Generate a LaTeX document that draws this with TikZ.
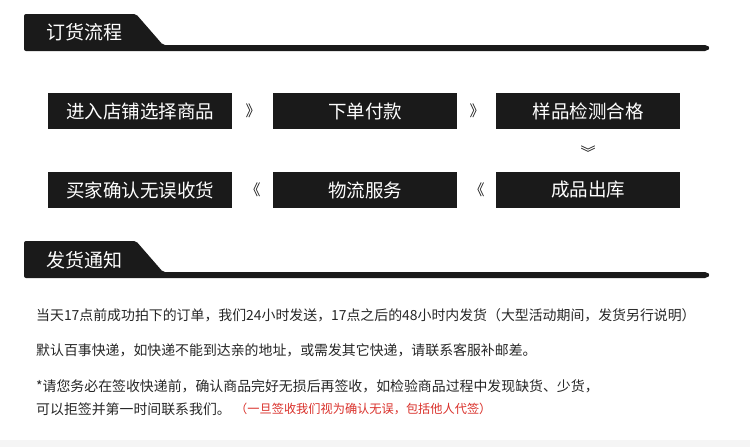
\documentclass[tikz,border=0pt]{standalone}
\usepackage{fontspec}
\setmainfont{Noto Sans CJK SC}
\usetikzlibrary{positioning}
\definecolor{tabblack}{HTML}{1A1A1A}
\definecolor{notered}{HTML}{D9302A}
\tikzset{
  stepbox/.style={fill=tabblack, text=white, minimum width=184pt, minimum height=36pt, inner sep=0pt, font=\fontsize{18.5}{18}\selectfont},
  chev/.style={text=tabblack, font=\fontsize{15}{15}\selectfont, inner sep=0pt},
  note/.style={anchor=west, inner sep=0pt, font=\fontsize{13.9}{14}\selectfont, text=black!85}
}
\begin{document}
\begin{tikzpicture}[x=1pt,y=-1pt]
    \useasboundingbox (0,0) rectangle (750,447);
    \fill[black!4] (0,440) rectangle (750,447);

    % headers
    \fill[tabblack, rounded corners=2pt] (24,14) -- (136,14) -- (163,45) -- (707,45) -- (710,48) -- (707,51) -- (24,51) -- cycle;
    \node[text=white, font=\fontsize{19}{19}\selectfont] (hdorder) at (84,32) {订货流程};
    \fill[tabblack, rounded corners=2pt] (24,241) -- (136,241) -- (163,272) -- (707,272) -- (710,275) -- (707,278) -- (24,278) -- cycle;
    \node[text=white, font=\fontsize{19}{19}\selectfont] (hdship) at (84,260) {发货通知};

    % steps
    \node[stepbox] (shop) at (140,111) {进入店铺选择商品};
    \node[stepbox] (pay) at (365,111) {下单付款};
    \node[stepbox] (check) at (588,111) {样品检测合格};
    \node[stepbox] (out) at (588,190) {成品出库};
    \node[stepbox] (logi) at (365,190) {物流服务};
    \node[stepbox] (recv) at (140,190) {买家确认无误收货};

    \node[chev] (c1) at (253,111) {》};
    \node[chev] (c2) at (477,111) {》};
    \node[chev] (c3) at (588,152) {︾};
    \node[chev] (c4) at (477,190) {《};
    \node[chev] (c5) at (253,190) {《};

    % notes
    \node[note] (n1) at (36,315) {当天17点前成功拍下的订单，我们24小时发送，17点之后的48小时内发货（大型活动期间，发货另行说明）};
    \node[note] (n2) at (36,350) {默认百事快递，如快递不能到达亲的地址，或需发其它快递，请联系客服补邮差。};
    \node[note] (n3) at (36,386) {*请您务必在签收快递前，确认商品完好无损后再签收，如检验商品过程中发现缺货、少货，};
    \node[note] (n4) at (36,409) {可以拒签并第一时间联系我们。};
    \node[note, text=notered, font=\fontsize{12.2}{13}\selectfont, right=4pt of n4] (n5) {（一旦签收我们视为确认无误，包括他人代签）};
\end{tikzpicture}
\end{document}
